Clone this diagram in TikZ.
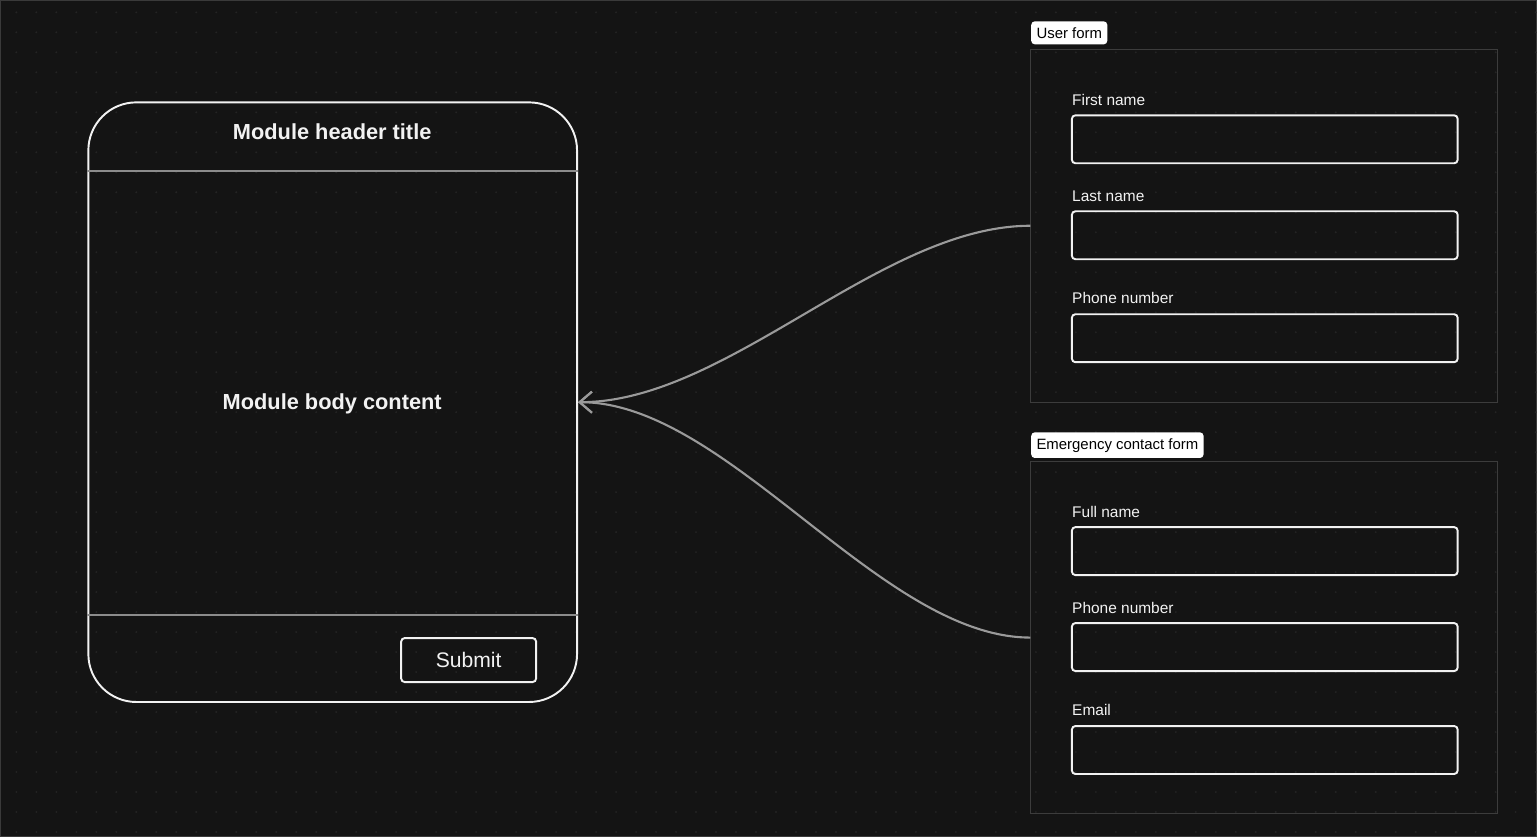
\documentclass[tikz,border=0pt]{standalone}
\usepackage{fontspec}
\setmainfont{Liberation Sans}
\usetikzlibrary{arrows.meta}
\definecolor{canvas}{HTML}{141414}
\definecolor{canvasedge}{HTML}{3A3A3A}
\definecolor{griddot}{HTML}{242424}
\definecolor{ink}{HTML}{F2F2F2}
\definecolor{framegray}{HTML}{3C3C3C}
\definecolor{divider}{HTML}{8C8C8C}
\definecolor{linkgray}{HTML}{9A9A9A}

\begin{document}
\begin{tikzpicture}[x=0.02cm, y=-0.02cm,
    module/.style={draw=ink, line width=1.1pt, rounded corners=0.96cm,
        minimum width=9.78cm, minimum height=12cm},
    divline/.style={draw=divider, line width=1.2pt},
    heading/.style={text=ink, font=\bfseries\fontsize{12.4}{14}\selectfont},
    button/.style={draw=ink, line width=1.1pt, rounded corners=2pt,
        minimum width=2.7cm, minimum height=0.88cm, text=ink,
        font=\fontsize{12}{14}\selectfont},
    formframe/.style={draw=framegray, line width=0.6pt,
        minimum width=9.34cm, minimum height=7.06cm},
    tag/.style={fill=white, text=black, rounded corners=2pt, anchor=west,
        inner xsep=3pt, minimum height=0.46cm, font=\fontsize{8.5}{10}\selectfont},
    field/.style={draw=ink, line width=1.1pt, rounded corners=2pt,
        minimum width=7.72cm, minimum height=0.96cm},
    fieldlabel/.style={anchor=west, inner sep=0pt, text=ink,
        font=\fontsize{8.8}{10}\selectfont},
    link/.style={draw=linkgray, line width=1.2pt,
        -{Straight Barb[length=7pt,width=12pt]}}]

    \fill[canvas, draw=canvasedge] (0,0) rectangle (1537,836);
    \useasboundingbox (0,0) rectangle (1537,836);
    \foreach \x in {16,36,...,1536}
        \foreach \y in {12,32,...,832}
            \fill[griddot] (\x,\y) circle (0.6pt);

    \node[module] (module) at (332.5,402) {};
    \draw[divline] (module.west |- 0,171) -- (module.east |- 0,171);
    \draw[divline] (module.west |- 0,615) -- (module.east |- 0,615);
    \node[heading] (title) at (332,131) {Module header title};
    \node[heading] (body) at (332,404) {Module body content};
    \node[button] (submit) at (468.5,660) {Submit};

    \node[formframe] (userform) at (1264.5,225.5) {};
    \node[tag] (usertag) at (1031,32.5) {User form};
    \node[fieldlabel] (firstlbl) at (1072,100) {First name};
    \node[field] (first) at (1265,139) {};
    \node[fieldlabel] (lastlbl) at (1072,196) {Last name};
    \node[field] (last) at (1265,235) {};
    \node[fieldlabel] (phonelbl) at (1072,298) {Phone number};
    \node[field] (phone) at (1265,338) {};

    \node[formframe] (emergform) at (1264.5,637.5) {};
    \node[tag] (emergtag) at (1031,445) {Emergency contact form};
    \node[fieldlabel] (fulllbl) at (1072,512) {Full name};
    \node[field] (full) at (1265,551) {};
    \node[fieldlabel] (ephonelbl) at (1072,608) {Phone number};
    \node[field] (ephone) at (1265,647) {};
    \node[fieldlabel] (emaillbl) at (1072,710) {Email};
    \node[field] (email) at (1265,750) {};

    \draw[link] (userform.west) .. controls +(-150,0) and +(150,0) .. (module.east);
    \draw[link] (emergform.west) .. controls +(-150,0) and +(150,0) .. (module.east);
\end{tikzpicture}
\end{document}
